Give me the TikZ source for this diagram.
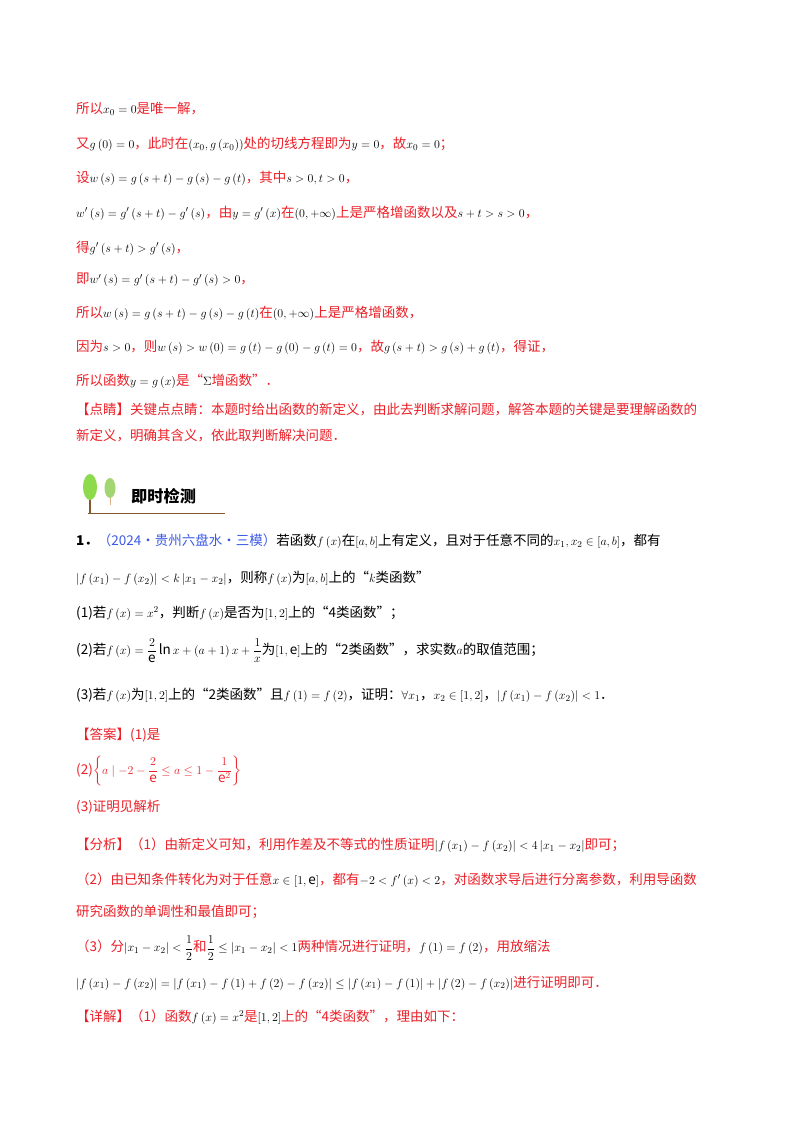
\documentclass[tikz,border=0pt]{standalone}
\usepackage{amsmath,amssymb}
\usepackage{fontspec}
\setmainfont[Scale=1.08]{Noto Sans CJK SC}
\usetikzlibrary{shapes.geometric}
\definecolor{rd}{RGB}{236,32,40}
\definecolor{bl}{RGB}{60,90,230}
\newcommand{\R}[1]{\textcolor{rd}{#1}}
\newcommand{\B}[1]{\textcolor{bl}{#1}}
\begin{document}
\begin{tikzpicture}[x=1pt,y=-1pt,font=\fontsize{12.5}{14}\selectfont,
 ln/.style={anchor=west,inner sep=0pt}]
\useasboundingbox (0,0) rectangle (800,1132);
\fill[white] (0,0) rectangle (800,1132);
\node[ln] (l1) at (76,109) {\R{所以}$x_0=0$\R{是唯一解，}};
\node[ln] (l2) at (76,144) {\R{又}$g\left(0\right)=0$\R{，此时在}$\left(x_0,g\left(x_0\right)\right)$\R{处的切线方程即为}$y=0$\R{，故}$x_0=0$\R{；}};
\node[ln] (l3) at (76,178) {\R{设}$w\left(s\right)=g\left(s+t\right)-g\left(s\right)-g\left(t\right)$\R{，其中}$s>0,t>0$\R{，}};
\node[ln] (l4) at (76,213) {$w'\left(s\right)=g'\left(s+t\right)-g'\left(s\right)$\R{，由}$y=g'\left(x\right)$\R{在}$\left(0,+\infty\right)$\R{上是严格增函数以及}$s+t>s>0$\R{，}};
\node[ln] (l5) at (76,248) {\R{得}$g'\left(s+t\right)>g'\left(s\right)$\R{，}};
\node[ln] (l6) at (76,280) {\R{即}$w'\left(s\right)=g'\left(s+t\right)-g'\left(s\right)>0$\R{，}};
\node[ln] (l7) at (76,313) {\R{所以}$w\left(s\right)=g\left(s+t\right)-g\left(s\right)-g\left(t\right)$\R{在}$\left(0,+\infty\right)$\R{上是严格增函数，}};
\node[ln] (l8) at (76,347) {\R{因为}$s>0$\R{，则}$w\left(s\right)>w\left(0\right)=g\left(t\right)-g\left(0\right)-g\left(t\right)=0$\R{，故}$g\left(s+t\right)>g\left(s\right)+g\left(t\right)$\R{，得证，}};
\node[ln] (l9) at (76,381) {\R{所以函数}$y=g\left(x\right)$\R{是“}$\Sigma$\R{增函数”．}};
\node[ln] (l10) at (76,410) {\R{【点睛】关键点点睛：本题时给出函数的新定义，由此去判断求解问题，解答本题的关键是要理解函数的}};
\node[ln] (l11) at (76,436) {\R{新定义，明确其含义，依此取判断解决问题．}};
% header
\draw[draw=brown!70!black,line width=0.7pt] (88,513) -- (225,513);
\draw[brown!70!black,line width=1.2pt] (90,513) -- (90,488);
\node[ellipse,fill=green!55!yellow!80!black!70,minimum width=14pt,minimum height=26pt,inner sep=0pt] (t1) at (90,487) {};
\draw[brown!60,line width=1pt] (110,505) -- (110,490);
\node[ellipse,fill=green!50!yellow!70!black!55,minimum width=11pt,minimum height=20pt,inner sep=0pt] (t2) at (110,488) {};
\node[ln,font=\fontsize{15}{17}\selectfont\bfseries] (hd) at (131,496) {即时检测};
% problem
\node[ln] (p1) at (76,541) {\textbf{1．}\B{（2024·贵州六盘水·三模）}若函数$f\left(x\right)$在$\left[a,b\right]$上有定义，且对于任意不同的$x_1,x_2\in\left[a,b\right]$，都有};
\node[ln] (p2) at (76,578) {$\left|f\left(x_1\right)-f\left(x_2\right)\right|<k\left|x_1-x_2\right|$，则称$f\left(x\right)$为$\left[a,b\right]$上的“$k$类函数”};
\node[ln] (p3) at (76,613) {(1)若$f\left(x\right)=x^2$，判断$f\left(x\right)$是否为$\left[1,2\right]$上的“4类函数”；};
\node[ln] (p4) at (76,651) {(2)若$f\left(x\right)=\dfrac{2}{\mathrm{e}}\ln x+\left(a+1\right)x+\dfrac{1}{x}$为$\left[1,\mathrm{e}\right]$上的“2类函数”，求实数$a$的取值范围；};
\node[ln] (p5) at (76,695) {(3)若$f\left(x\right)$为$\left[1,2\right]$上的“2类函数”且$f\left(1\right)=f\left(2\right)$，证明：$\forall x_1$，$x_2\in\left[1,2\right]$，$\left|f\left(x_1\right)-f\left(x_2\right)\right|<1$．};
\node[ln] (a1) at (76,735) {\R{【答案】(1)是}};
\node[ln] (a2) at (76,771) {\R{(2)$\left\{a\mid -2-\dfrac{2}{\mathrm{e}}\le a\le 1-\dfrac{1}{\mathrm{e}^2}\right\}$}};
\node[ln] (a3) at (76,807) {\R{(3)证明见解析}};
\node[ln] (f1) at (76,845) {\R{【分析】（1）由新定义可知，利用作差及不等式的性质证明}$\left|f\left(x_1\right)-f\left(x_2\right)\right|<4\left|x_1-x_2\right|$\R{即可；}};
\node[ln] (f2) at (76,880) {\R{（2）由已知条件转化为对于任意}$x\in\left[1,\mathrm{e}\right]$\R{，都有}$-2<f'\left(x\right)<2$\R{，对函数求导后进行分离参数，利用导函数}};
\node[ln] (f3) at (76,912) {\R{研究函数的单调性和最值即可；}};
\node[ln] (f4) at (76,948) {\R{（3）分}$|x_1-x_2|<\dfrac12$\R{和}$\dfrac12\le|x_1-x_2|<1$\R{两种情况进行证明，}$f\left(1\right)=f\left(2\right)$\R{，用放缩法}};
\node[ln] (f5) at (76,983) {$\left|f\left(x_1\right)-f\left(x_2\right)\right|=\left|f\left(x_1\right)-f\left(1\right)+f\left(2\right)-f\left(x_2\right)\right|\le\left|f\left(x_1\right)-f\left(1\right)\right|+\left|f\left(2\right)-f\left(x_2\right)\right|$\R{进行证明即可．}};
\node[ln] (x1) at (76,1017) {\R{【详解】（1）函数}$f\left(x\right)=x^2$\R{是}$\left[1,2\right]$\R{上的“4类函数”，理由如下：}};
\end{tikzpicture}
\end{document}
